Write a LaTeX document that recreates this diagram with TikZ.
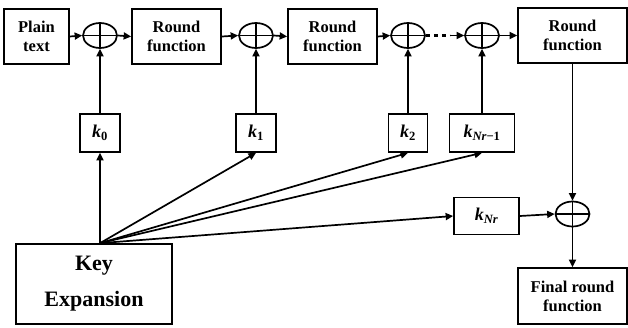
\documentclass[tikz,border=0pt]{standalone}
\usepackage{fontspec}
\setmainfont{Liberation Serif}
\usetikzlibrary{arrows.meta,shapes.geometric}
\tikzset{
  box/.style={draw, line width=1.7pt, inner sep=0pt, align=center,
    font=\fontsize{16.5}{19}\selectfont\bfseries},
  kbox/.style={draw, line width=1.7pt, inner sep=0pt,
    font=\fontsize{18}{19}\selectfont\bfseries\itshape},
  xor/.style={draw, ellipse, line width=1.7pt, minimum width=34pt, minimum height=25pt, inner sep=0pt},
  conn/.style={line width=1.7pt, -{Triangle[length=7.5pt,width=7pt]}},
  plainln/.style={line width=1.7pt}
}
\newcommand{\xorcross}[1]{\draw[plainln] (#1.north) -- (#1.south) (#1.west) -- (#1.east);}
\begin{document}
\begin{tikzpicture}[x=1pt,y=-1pt]
\useasboundingbox (0,0) rectangle (628,327);
% top row
\node[box, minimum width=65pt, minimum height=55pt] (plain) at (36.5,36.5) {Plain\\text};
\node[box, minimum width=89pt, minimum height=55pt] (rf1) at (176.5,36.5) {Round\\function};
\node[box, minimum width=89pt, minimum height=55pt] (rf2) at (332.5,36.5) {Round\\function};
\node[box, minimum width=109pt, minimum height=55pt] (rf3) at (572.5,35.5) {Round\\function};
\node[xor] (x1) at (100,35.5) {};
\node[xor] (x2) at (256,35.5) {};
\node[xor] (x3) at (408,35.5) {};
\node[xor] (x4) at (482,35.5) {};
\node[xor] (x5) at (572.5,214) {};
\xorcross{x1}\xorcross{x2}\xorcross{x3}\xorcross{x4}\xorcross{x5}
% keys
\node[kbox, minimum width=40pt, minimum height=38pt] (k0) at (100,133) {k\textsubscript{\upshape 0}};
\node[kbox, minimum width=40pt, minimum height=38pt] (k1) at (256,133) {k\textsubscript{\upshape 1}};
\node[kbox, minimum width=39pt, minimum height=38pt] (k2) at (408,133) {k\textsubscript{\upshape 2}};
\node[kbox, minimum width=65pt, minimum height=38pt] (kn1) at (482,133) {k\textsubscript{Nr\upshape −1}};
\node[kbox, minimum width=65pt, minimum height=37pt] (kn) at (486.5,216) {k\textsubscript{Nr}};
\node[box, minimum width=109pt, minimum height=56pt] (final) at (572.5,296) {Final round\\function};
\node[box, minimum width=156pt, minimum height=80pt, font=\fontsize{22}{36}\selectfont\bfseries] (ke) at (94,284) {Key\\Expansion};
\coordinate (ko) at (ke.north -| k0);
% top chain
\draw[conn] (plain.east) -- (x1.west);
\draw[conn] (x1.east) -- (rf1.west);
\draw[conn] (rf1.east) -- (x2.west);
\draw[conn] (x2.east) -- (rf2.west);
\draw[conn] (rf2.east) -- (x3.west);
\draw[line width=3pt, dash pattern=on 4pt off 4pt] (x3.east) -- ++(24,0) coordinate (dd);
\draw[conn] (dd) -- (x4.west);
\draw[conn] (x4.east) -- (rf3.west);
\draw[conn] (rf3.south) -- (x5.north);
\draw[conn] (kn.east) -- (x5.west);
\draw[conn] (x5.south) -- (final.north);
% keys to xors
\draw[conn] (k0.north) -- (x1.south);
\draw[conn] (k1.north) -- (x2.south);
\draw[conn] (k2.north) -- (x3.south);
\draw[conn] (kn1.north) -- (x4.south);
% fan
\draw[conn] (ko) -- (k0.south);
\draw[conn] (ko) -- (k1.south);
\draw[conn] (ko) -- (k2.south);
\draw[conn] (ko) -- (kn1.south);
\draw[conn] (ko) -- (kn.west);
\end{tikzpicture}
\end{document}
